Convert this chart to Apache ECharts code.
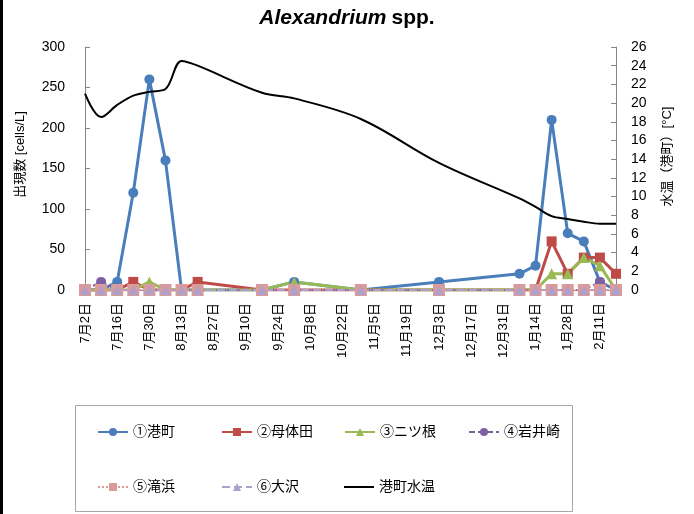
<!DOCTYPE html>
<html>
<head>
<meta charset="utf-8">
<script src="https://cdn.jsdelivr.net/npm/echarts@6/dist/echarts.min.js"></script>
<style>
  html, body { margin: 0; padding: 0; background: #fff; }
  #chart { width: 694px; height: 514px; }
</style>
</head>
<body>
<div id="chart"></div>
<script>
// sampling dates (2012-2013 season)
const sampleDates = [
  '2012-07-02', '2012-07-09', '2012-07-16', '2012-07-23', '2012-07-30',
  '2012-08-06', '2012-08-13', '2012-08-20', '2012-09-17', '2012-10-01',
  '2012-10-30', '2012-12-03', '2013-01-07', '2013-01-14', '2013-01-21',
  '2013-01-28', '2013-02-04', '2013-02-11', '2013-02-18'
]
// cells/L per station
const minatomachi = [0, 0, 10, 120, 260, 160, 0, 0, 0, 10, 0, 10, 20, 30, 210, 70, 60, 10, 0]
const mottaida    = [0, 0, 0, 10, 0, 0, 0, 10, 0, 0, 0, 0, 0, 0, 60, 20, 40, 40, 20]
const futatsune   = [0, 0, 0, 0, 10, 0, 0, 0, 0, 10, 0, 0, 0, 0, 20, 20, 40, 30, 0]
const iwaizaki    = [0, 10, 0, 0, 0, 0, 0, 0, 0, 0, 0, 0, 0, 0, 0, 0, 0, 10, 0]
const takihama    = [0, 0, 0, 0, 0, 0, 0, 0, 0, 0, 0, 0, 0, 0, 0, 0, 0, 0, 0]
const osawa       = [0, 0, 0, 0, 0, 0, 0, 0, 0, 0, 0, 0, 0, 0, 0, 0, 0, 0, 0]
// water temp at 港町 [°C]
const waterTemp = [21.0, 18.5, 19.8, 20.8, 21.2, 21.5, 24.5, 24.0, 21.1, 20.5, 18.3, 13.6, 9.8, 8.9, 7.9, 7.6, 7.3, 7.1, 7.1]

// x tick labels, one every 14 days from 7/2
const xTickLabels = ['7月2日', '7月16日', '7月30日', '8月13日', '8月27日', '9月10日', '9月24日',
  '10月8日', '10月22日', '11月5日', '11月19日', '12月3日', '12月17日', '12月31日',
  '1月14日', '1月28日', '2月11日']

const seriesNames = ['①港町', '②母体田', '③ニツ根', '④岩井崎', '⑤滝浜', '⑥大沢', '港町水温']

const base = Date.UTC(2012, 6, 2)
const dayOf = s => {
  const [y, m, d] = s.split('-').map(Number)
  return (Date.UTC(y, m - 1, d) - base) / 86400000
}
const days = sampleDates.map(dayOf)
const pairs = vals => vals.map((v, i) => [days[i], v])

const FONT = "'Liberation Sans', 'Noto Sans CJK JP', sans-serif"

const chart = echarts.init(document.getElementById('chart'))

function countSeries(name, vals, color, symbol, size, lineStyle) {
  return {
    name, type: 'line', data: pairs(vals),
    symbol, symbolSize: size,
    lineStyle: Object.assign({ color, width: 3 }, lineStyle),
    itemStyle: { color, borderWidth: 0 },
    emphasis: { disabled: true }
  }
}

// one legend per item so they sit on the 4-column grid of the original
const legendPos = [[92, 420], [216, 420], [339, 420], [463, 420], [92, 475], [216, 475], [339, 475]]
const legends = seriesNames.map((n, i) => {
  const isTemp = i === seriesNames.length - 1
  return {
    data: [isTemp ? { name: n, icon: 'rect' } : n],
    left: legendPos[i][0], top: legendPos[i][1],
    itemWidth: 30, itemHeight: isTemp ? 2 : 10, itemGap: 0, selectedMode: false,
    textStyle: { fontFamily: FONT, fontSize: 14, color: '#000' }
  }
})

chart.setOption({
  animation: false,
  backgroundColor: '#fff',
  title: {
    text: '{i|Alexandrium} {n|spp.}',
    left: 'center', top: 3,
    textStyle: {
      rich: {
        i: { fontFamily: FONT, fontSize: 21, fontWeight: 'bold', fontStyle: 'italic', color: '#000' },
        n: { fontFamily: FONT, fontSize: 21, fontWeight: 'bold', color: '#000' }
      }
    }
  },
  graphic: [
    { type: 'rect', left: 0, top: 0, shape: { width: 3, height: 514 }, style: { fill: '#000' } },
    { type: 'rect', left: 73, top: 403, shape: { width: 497, height: 106 },
      style: { fill: 'none', stroke: '#a6a6a6', lineWidth: 1 }, z: -1 }
  ],
  legend: legends,
  grid: { left: 85, right: 78, top: 47, bottom: 224 },
  xAxis: {
    type: 'value', min: 0, max: days[days.length - 1], interval: 14,
    splitLine: { show: false },
    axisLine: { lineStyle: { color: '#868686' } },
    axisTick: { show: false },
    axisLabel: {
      rotate: 90, margin: 13, fontFamily: FONT, fontSize: 13, color: '#000',
      showMaxLabel: false,
      formatter: v => (v % 14 === 0 ? (xTickLabels[v / 14] || '') : '')
    }
  },
  yAxis: [
    {
      type: 'value', min: 0, max: 300, interval: 50,
      name: '出現数 [cells/L]', nameLocation: 'middle', nameRotate: 90, nameGap: 58,
      nameTextStyle: { fontFamily: FONT, fontSize: 13, color: '#000', padding: [0, 0, 0, 28] },
      splitLine: { show: false },
      axisLine: { show: true, lineStyle: { color: '#868686' } },
      axisTick: { show: true, inside: true, length: 5, lineStyle: { color: '#868686' } },
      axisLabel: { fontFamily: FONT, fontSize: 14, color: '#000', margin: 20 }
    },
    {
      type: 'value', min: 0, max: 26, interval: 2, position: 'right',
      name: '水温（港町）[°C]', nameLocation: 'middle', nameRotate: 90, nameGap: 45,
      nameTextStyle: { fontFamily: FONT, fontSize: 13, color: '#000', padding: [0, 0, 0, 24] },
      splitLine: { show: false },
      axisLine: { show: true, lineStyle: { color: '#868686' } },
      axisTick: { show: true, inside: true, length: 5, lineStyle: { color: '#868686' } },
      axisLabel: { fontFamily: FONT, fontSize: 14, color: '#000', margin: 15 }
    }
  ],
  series: [
    countSeries(seriesNames[0], minatomachi, '#4A7EBB', 'circle', 10),
    countSeries(seriesNames[1], mottaida, '#BE4B48', 'rect', 10),
    countSeries(seriesNames[2], futatsune, '#98B954', 'triangle', 11),
    countSeries(seriesNames[3], iwaizaki, '#7D60A0', 'circle', 10, { width: 2, type: [6, 3] }),
    countSeries(seriesNames[4], takihama, '#DB9B99', 'rect', 12, { width: 1.5, type: 'dotted' }),
    countSeries(seriesNames[5], osawa, '#ADA0CB', 'triangle', 10, { width: 2, type: [8, 4] }),
    {
      name: seriesNames[6], type: 'line', yAxisIndex: 1, data: pairs(waterTemp),
      smooth: 0.35, showSymbol: false, symbol: 'none',
      lineStyle: { color: '#000', width: 2 }, itemStyle: { color: '#000' },
      emphasis: { disabled: true }
    }
  ]
})
</script>
</body>
</html>
